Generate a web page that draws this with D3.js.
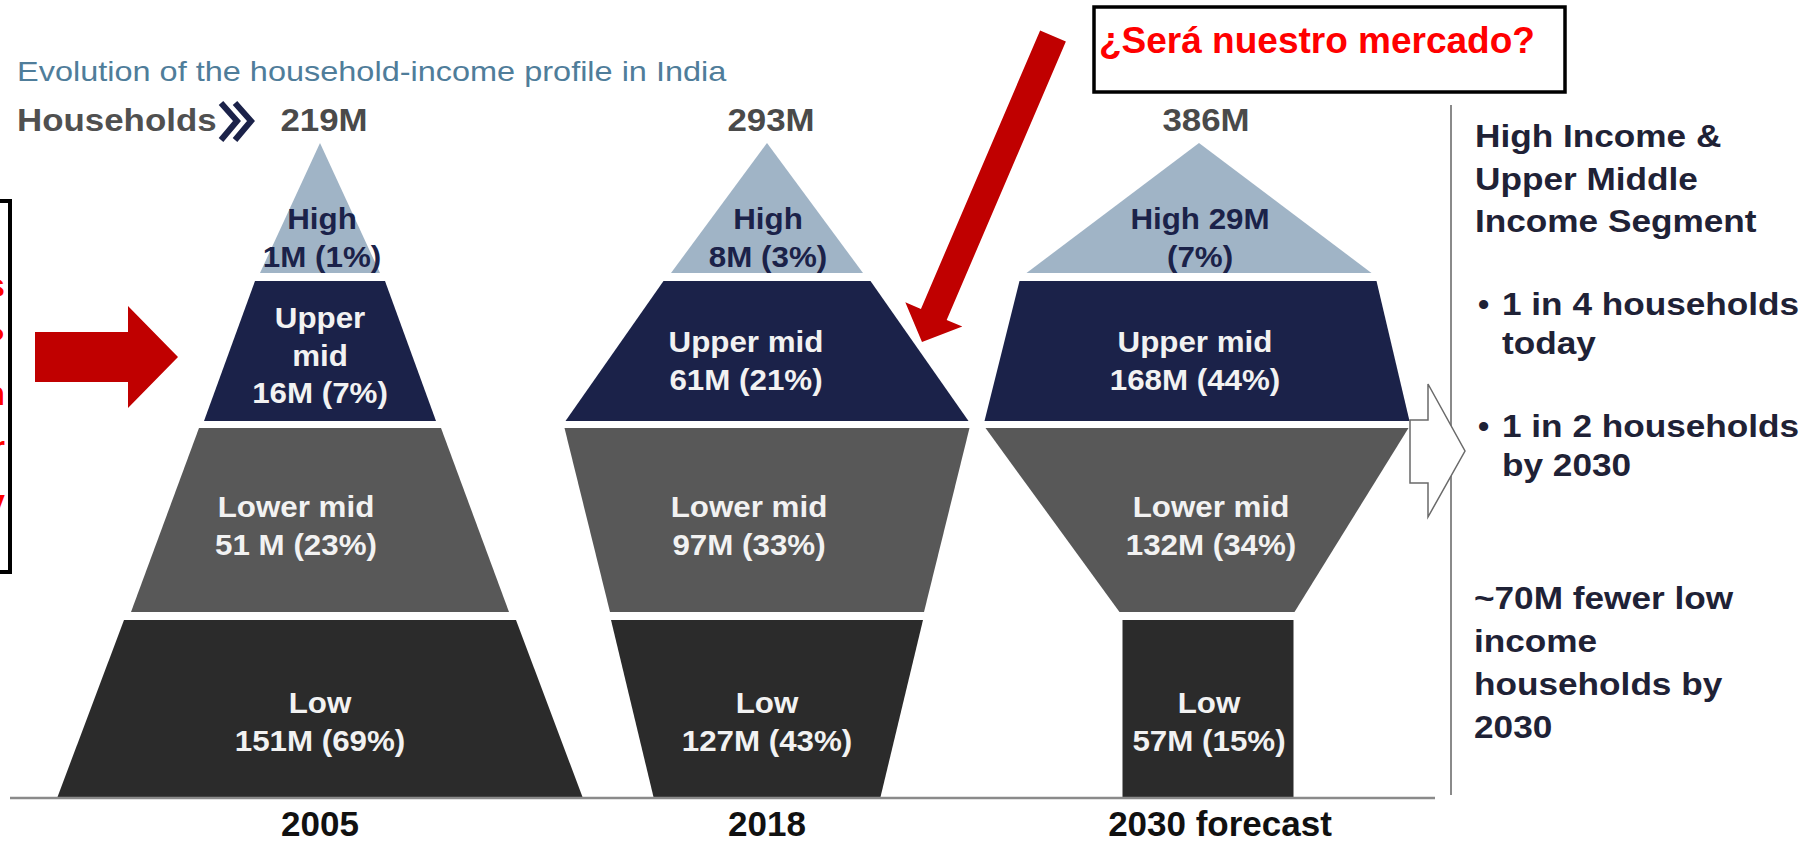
<!DOCTYPE html>
<html>
<head>
<meta charset="utf-8">
<script src="https://cdn.jsdelivr.net/npm/d3@7"></script>
<style>
  body { margin: 0; background: #fff; }
  svg { display: block; }
  text { font-family: "Liberation Sans", Arial, sans-serif; }
</style>
</head>
<body>
<div id="chart"></div>
<script>
const years = ['2005', '2018', '2030 forecast']
const totals = ['219M', '293M', '386M']
const segments = ['High', 'Upper mid', 'Lower mid', 'Low']

const labels2005 = [['High', '1M (1%)'], ['Upper', 'mid', '16M (7%)'], ['Lower mid', '51 M (23%)'], ['Low', '151M (69%)']]
const labels2018 = [['High', '8M (3%)'], ['Upper mid', '61M (21%)'], ['Lower mid', '97M (33%)'], ['Low', '127M (43%)']]
const labels2030 = [['High 29M', '(7%)'], ['Upper mid', '168M (44%)'], ['Lower mid', '132M (34%)'], ['Low', '57M (15%)']]

const sideHeading = ['High Income &', 'Upper Middle', 'Income Segment']
const sideBullets = [['1 in 4 households', 'today'], ['1 in 2 households', 'by 2030']]
const sideNote = ['~70M fewer low', 'income', 'households by', '2030']

const width = 1809
const height = 842

const svg = d3.select('#chart')
    .append('svg')
    .attr('width', width)
    .attr('height', height)

const color = d3.scaleOrdinal()
    .domain(segments)
    .range(['#a0b4c6', '#1b2249', '#585858', '#2b2b2b'])
const labelColor = d3.scaleOrdinal()
    .domain(segments)
    .range(['#1b2249', '#f2f2f2', '#f2f2f2', '#f2f2f2'])

const x = d3.scaleOrdinal().domain(years).range([320, 767, 1202])
const bandY = d3.scaleOrdinal().domain(segments).range([[143, 273], [281, 421], [428, 612], [620, 797]])

// outline of each band: top width, bottom width, top centre shift, bottom centre shift
const silhouette = {
    '2005': [[0, 120, 0, 0], [130, 232, 0, 0], [242, 378, 0, 0], [392, 525, 0, 0]],
    '2018': [[0, 192, 0, 0], [207, 403, 0, 0], [405, 314, 0, 0], [312, 227, 0, 0]],
    '2030 forecast': [[0, 345, -3, -3], [357, 425, -4, -5], [423, 175, -5, 5], [171, 171, 6, 6]]
}
const labelDx = {
    '2005': [2, 0, -24, 0],
    '2018': [1, -21, -18, 0],
    '2030 forecast': [-2, -7, 9, 7]
}
const labelTop = {
    'High': 219, 'Upper mid': 342, 'Lower mid': 507, 'Low': 703
}
const allLabels = [labels2005, labels2018, labels2030]

const stretchText = (g, px, py, str, opts) => g.append('text')
    .attr('transform', `translate(${px},${py}) scale(${opts.sx || 1},1)`)
    .attr('text-anchor', opts.anchor || 'middle')
    .attr('font-size', opts.size)
    .attr('font-weight', opts.weight || 'bold')
    .attr('fill', opts.fill)
    .text(str)

const poly = d3.line()

// title + households row
stretchText(svg, 17, 81, 'Evolution of the household-income profile in India', { size: 28, weight: 'normal', fill: '#4f7d9a', sx: 1.16, anchor: 'start' })
stretchText(svg, 17, 131, 'Households', { size: 32, fill: '#505050', sx: 1.09, anchor: 'start' })
const chev = svg.append('g').attr('fill', 'none').attr('stroke', '#1b2249').attr('stroke-width', 6)
chev.append('path').attr('d', poly([[221, 103], [237, 121], [221, 140]]))
chev.append('path').attr('d', poly([[235, 103], [251, 121], [235, 140]]))

years.forEach((year, yi) => {
    const cx = x(year)
    const g = svg.append('g')
    stretchText(g, cx + 4, 131, totals[yi], { size: 32, fill: '#4a4a4a', sx: 1.09 })

    segments.forEach((seg, si) => {
        const [y0, y1] = bandY(seg)
        const [w0, w1, s0, s1] = silhouette[year][si]
        g.append('path')
            .attr('d', poly([[cx + s0 - w0 / 2, y0], [cx + s0 + w0 / 2, y0], [cx + s1 + w1 / 2, y1], [cx + s1 - w1 / 2, y1]]) + 'Z')
            .attr('fill', color(seg))

        const lines = allLabels[yi][si]
        const top = (seg === 'Upper mid' && lines.length === 3) ? 318 : labelTop[seg]
        lines.forEach((ln, li) => {
            stretchText(g, cx + labelDx[year][si], top + li * 37.5 + 10, ln, { size: 29, fill: labelColor(seg), sx: 1.08 })
        })
    })

    stretchText(g, year === '2030 forecast' ? cx + 18 : cx, 836, year, { size: 35, fill: '#111' })
})

// baseline and separator
svg.append('line').attr('x1', 10).attr('x2', 1435).attr('y1', 798).attr('y2', 798)
    .attr('stroke', '#8a8a8a').attr('stroke-width', 2.5)
svg.append('line').attr('x1', 1451).attr('x2', 1451).attr('y1', 105).attr('y2', 795)
    .attr('stroke', '#8a8a8a').attr('stroke-width', 2)

// outline arrow to the side notes
svg.append('path')
    .attr('d', poly([[1410, 420], [1428, 420], [1428, 384], [1465, 451], [1428, 517], [1428, 483], [1410, 483]]) + 'Z')
    .attr('fill', '#fff').attr('stroke', '#6a6a6a').attr('stroke-width', 1.5)

// side notes
const side = svg.append('g')
sideHeading.forEach((t, i) => stretchText(side, 1475, 147 + i * 42.5, t, { size: 32, fill: '#1f2236', sx: 1.1, anchor: 'start' }))
sideBullets.forEach((b, bi) => {
    const by = 315 + bi * 122
    stretchText(side, 1478, by, '•', { size: 32, fill: '#1f2236', anchor: 'start' })
    b.forEach((t, i) => stretchText(side, 1502, by + i * 39, t, { size: 32, fill: '#1f2236', sx: 1.1, anchor: 'start' }))
})
sideNote.forEach((t, i) => stretchText(side, 1474, 609 + i * 43, t, { size: 32, fill: '#1f2236', sx: 1.1, anchor: 'start' }))

// red annotations
const blockArrow = (from, to, shaft, head, headLen) => {
    const dx = to[0] - from[0], dy = to[1] - from[1]
    const len = Math.hypot(dx, dy)
    const ux = dx / len, uy = dy / len
    const px = -uy, py = ux
    const bx = to[0] - ux * headLen, by = to[1] - uy * headLen
    return poly([
        [from[0] + px * shaft, from[1] + py * shaft],
        [bx + px * shaft, by + py * shaft],
        [bx + px * head, by + py * head],
        to,
        [bx - px * head, by - py * head],
        [bx - px * shaft, by - py * shaft],
        [from[0] - px * shaft, from[1] - py * shaft]
    ]) + 'Z'
}
svg.append('path').attr('d', blockArrow([35, 357], [178, 357], 25, 51, 50)).attr('fill', '#c00000')
svg.append('path').attr('d', blockArrow([1053, 36], [922, 342], 14, 31, 30)).attr('fill', '#c00000')

svg.append('rect').attr('x', 1094).attr('y', 7).attr('width', 471).attr('height', 85)
    .attr('fill', '#fff').attr('stroke', '#000').attr('stroke-width', 3.5)
stretchText(svg, 1099, 53, '¿Será nuestro mercado?', { size: 37, fill: '#ff0000', anchor: 'start' })

svg.append('rect').attr('x', -20).attr('y', 201).attr('width', 30).attr('height', 371)
    .attr('fill', 'none').attr('stroke', '#000').attr('stroke-width', 4)
const leftBits = ['s', '?', 'n', 'r', 'y']
leftBits.forEach((t, i) => stretchText(svg, 5, 297 + i * 54, t, { size: 34, fill: '#ff0000', anchor: 'end' }))
</script>
</body>
</html>
